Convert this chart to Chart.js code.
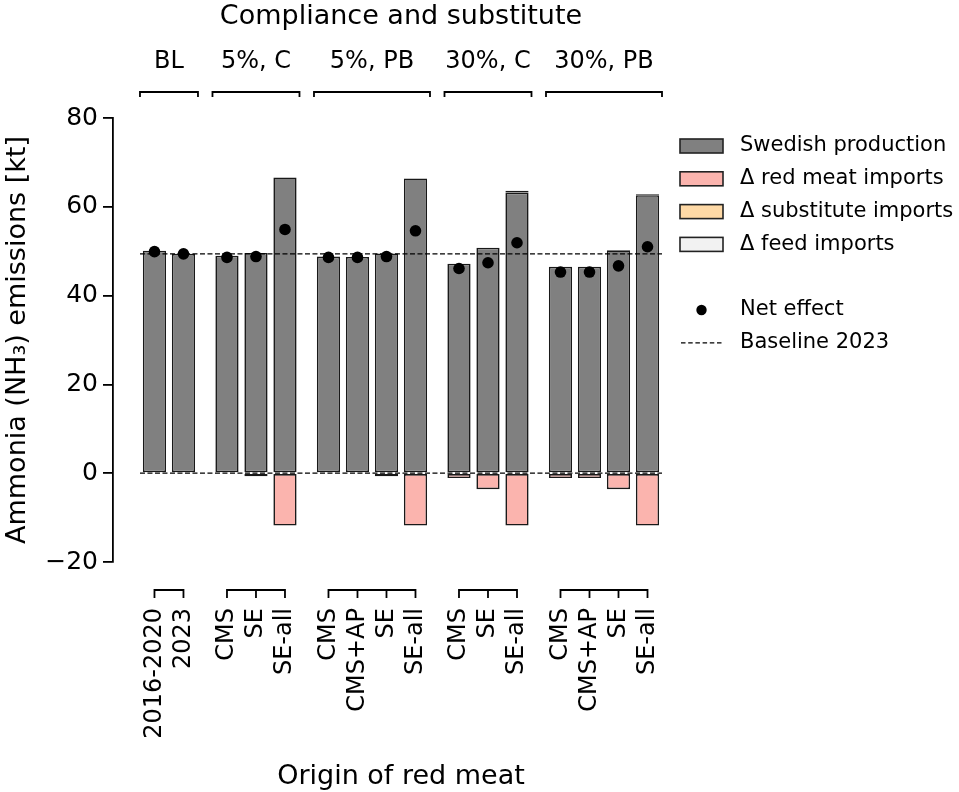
<!DOCTYPE html>
<html><head><meta charset="utf-8">
<script src="https://cdn.jsdelivr.net/npm/chart.js@4.4.1/dist/chart.umd.min.js"></script>
<style>html,body{margin:0;padding:0;background:#fff}canvas{display:block}</style>
</head><body>
<canvas id="c" width="959" height="792"></canvas>
<script>
// ---- data ----
const categories = ['2016-2020','2023','CMS','SE','SE-all','CMS','CMS+AP','SE','SE-all','CMS','SE','SE-all','CMS','CMS+AP','SE','SE-all'];
const groupNames = ['BL','5%, C','5%, PB','30%, C','30%, PB'];
const groupOf = [0,0,1,1,1,2,2,2,2,3,3,3,4,4,4,4];
const swedishProduction = [50.1,49.4,49.0,49.6,66.6,48.8,48.7,49.5,66.4,47.2,50.8,63.2,46.5,46.5,50.2,62.6];
const redMeatImports    = [0,0,-0.2,-0.7,-11.8,-0.2,-0.2,-0.7,-11.8,-1.1,-3.6,-11.8,-1.1,-1.1,-3.6,-11.8];
const substituteImports = [0,0,0,0,0,0,0,0,0,0,0,0.4,0,0,0,0.2];
const feedImports       = [0,0,0,0,0,0,0,0,0,0,0,0,0,0,0,0];
const netEffect         = [49.9,49.4,48.6,48.8,54.9,48.6,48.6,48.8,54.6,46.1,47.4,51.9,45.3,45.3,46.7,51.0];
const baseline2023 = 49.4;
const yTickValues = [-20,0,20,40,60,80];

// ---- layout helpers ----
const GROUP_GAP = 0.5;
const pos = categories.map((_, i) => i + GROUP_GAP * groupOf[i]);
const X_FIRST = pos[0] - 0.5, X_LAST = pos[pos.length - 1] + 0.5;
const X_MIN = X_FIRST - 0.93;
const FONT = 'DejaVu Sans';
Chart.defaults.font.family = FONT;
Chart.defaults.color = '#000';

const pts = arr => arr.map((v, i) => ({x: pos[i], y: v}));
const groupCenters = groupNames.map((_, g) => {
  const p = pos.filter((_, i) => groupOf[i] === g);
  return (p[0] + p[p.length - 1]) / 2;
});

const barCommon = {type: 'bar', stack: 'main', order: 2, borderColor: 'rgba(0,0,0,0.9)', borderWidth: 1.6, borderSkipped: false, barPercentage: 0.8, categoryPercentage: 1.0};

const datasets = [
  Object.assign({label: 'Swedish production', data: pts(swedishProduction), backgroundColor: '#808080'}, barCommon),
  Object.assign({label: '\u0394 red meat imports', data: pts(redMeatImports), backgroundColor: '#fbb4ae'}, barCommon),
  Object.assign({label: '\u0394 substitute imports', data: pts(substituteImports), backgroundColor: '#fed9a6'}, barCommon),
  Object.assign({label: '\u0394 feed imports', data: pts(feedImports), backgroundColor: '#f2f2f2'}, barCommon),
  {type: 'scatter', label: 'Net effect', stack: 'net', order: 0, data: pts(netEffect), backgroundColor: '#000', borderWidth: 0, pointRadius: 5.8, legendGap: true},
  {type: 'line', label: 'Baseline 2023', stack: 'base', order: 1, data: [{x: X_FIRST, y: baseline2023}, {x: X_LAST, y: baseline2023}], borderColor: '#000', borderWidth: 1.3, borderDash: [5, 2.5], pointRadius: 0, fill: false},
  {type: 'line', label: 'zero', stack: 'zero', order: 1, legendSkip: true, data: [{x: X_FIRST, y: 0}, {x: X_LAST, y: 0}], borderColor: '#000', borderWidth: 1.3, borderDash: [5, 2.5], pointRadius: 0, fill: false}
];

const deco = {
  id: 'deco',
  afterDraw(chart) {
    const ctx = chart.ctx, xs = chart.scales.x;
    ctx.save();
    ctx.strokeStyle = '#000'; ctx.lineWidth = 1.8; ctx.lineJoin = 'miter';
    groupNames.forEach((g, gi) => {
      const p = pos.filter((_, i) => groupOf[i] === gi);
      const a = xs.getPixelForValue(p[0]), b = xs.getPixelForValue(p[p.length - 1]);
      ctx.beginPath(); ctx.moveTo(a, 598); ctx.lineTo(a, 590); ctx.lineTo(b, 590); ctx.lineTo(b, 598); ctx.stroke();
      p.slice(1, -1).forEach(v => { const px = xs.getPixelForValue(v); ctx.beginPath(); ctx.moveTo(px, 590); ctx.lineTo(px, 598); ctx.stroke(); });
      const ta = xs.getPixelForValue(p[0] - 0.5), tb = xs.getPixelForValue(p[p.length - 1] + 0.5);
      ctx.beginPath(); ctx.moveTo(ta, 97); ctx.lineTo(ta, 92); ctx.lineTo(tb, 92); ctx.lineTo(tb, 97); ctx.stroke();
    });
    // titles
    const mid = xs.getPixelForValue((X_FIRST + X_LAST) / 2);
    ctx.fillStyle = '#000'; ctx.textAlign = 'center'; ctx.textBaseline = 'middle';
    ctx.font = '27px "' + FONT + '"';
    ctx.fillText('Compliance and substitute', mid, 17);
    ctx.fillText('Origin of red meat', mid, 777);
    // legend
    let y = 146; const step = 32.8;
    ctx.font = '21px "' + FONT + '"'; ctx.textAlign = 'left';
    chart.data.datasets.forEach(ds => {
      if (ds.legendSkip) return;
      if (ds.legendGap) y += step;
      if (ds.type === 'bar') {
        ctx.fillStyle = ds.backgroundColor; ctx.fillRect(680, y - 7, 43, 14);
        ctx.strokeStyle = '#222'; ctx.lineWidth = 1.6; ctx.strokeRect(680, y - 7, 43, 14);
      } else if (ds.type === 'scatter') {
        ctx.fillStyle = '#000'; ctx.beginPath(); ctx.arc(701.5, y, 5.2, 0, Math.PI * 2); ctx.fill();
      } else {
        ctx.strokeStyle = '#000'; ctx.lineWidth = 1.3; ctx.setLineDash([4.5, 2.7]);
        ctx.beginPath(); ctx.moveTo(681, y); ctx.lineTo(723, y); ctx.stroke(); ctx.setLineDash([]);
      }
      ctx.fillStyle = '#000'; ctx.fillText(ds.label, 740, y);
      y += step;
    });
    ctx.restore();
  }
};

new Chart(document.getElementById('c'), {
  data: {datasets},
  options: {
    responsive: false, animation: false, events: [],
    layout: {padding: {left: 0, top: 0, bottom: 0, right: 297}},
    plugins: {legend: {display: false}, tooltip: {enabled: false}, title: {display: false}},
    scales: {
      x: {
        type: 'linear', position: 'bottom', min: X_MIN, max: X_LAST, stacked: true, offset: false,
        afterBuildTicks: s => { s.ticks = pos.map(v => ({value: v})); },
        afterFit: s => { s.height = 230; },
        grid: {display: false, drawTicks: false, offset: false}, border: {display: false},
        ticks: {autoSkip: false, minRotation: 90, maxRotation: 90, padding: 46, font: {size: 24}, callback: (v, i) => categories[i]}
      },
      xTop: {
        type: 'linear', position: 'top', min: X_MIN, max: X_LAST, offset: false,
        afterBuildTicks: s => { s.ticks = groupCenters.map(v => ({value: v})); },
        afterFit: s => { s.height = 118; },
        grid: {display: false, drawTicks: false, offset: false}, border: {display: false},
        ticks: {autoSkip: false, maxRotation: 0, minRotation: 0, padding: 42, font: {size: 24}, callback: (v, i) => groupNames[i]}
      },
      y: {
        type: 'linear', position: 'left', min: -20, max: 80, stacked: true,
        afterBuildTicks: s => { s.ticks = yTickValues.map(v => ({value: v})); },
        afterFit: s => { s.width = 113; },
        grid: {display: true, drawOnChartArea: false, drawTicks: true, tickLength: 10, color: '#000', lineWidth: 1.8},
        border: {display: true, color: '#000', width: 1.8},
        ticks: {padding: 5, font: {size: 25}, callback: v => v < 0 ? '\u2212' + Math.abs(v) : String(v)},
        title: {display: true, text: 'Ammonia (NH\u2083) emissions [kt]', font: {size: 27}, padding: {top: 2, bottom: 0}}
      }
    }
  },
  plugins: [deco]
});
</script>
</body></html>
